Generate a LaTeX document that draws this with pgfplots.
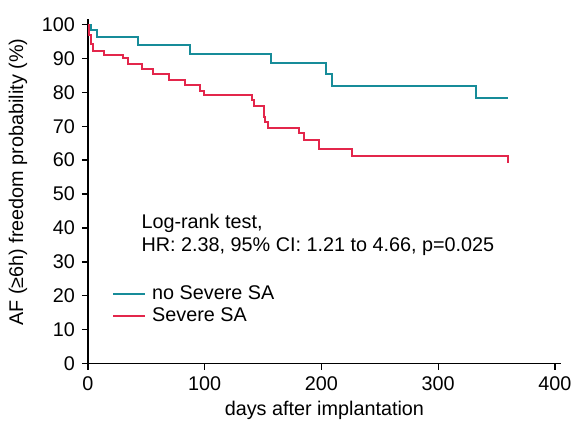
\documentclass[border=0pt]{standalone}
\usepackage{fontspec}
\setmainfont{Liberation Sans}
\usepackage{pgfplots}
\pgfplotsset{compat=1.18}

\definecolor{noSA}{RGB}{23,140,153}
\definecolor{SA}{RGB}{227,38,75}

\begin{document}
\begin{tikzpicture}
\fontsize{9.9}{12}\selectfont
% keep the page the size of the original figure
\useasboundingbox (-44pt,-29.75pt) rectangle (243pt,181.75pt);
\begin{axis}[
    scale only axis,
    width=236.4pt,
    height=172.2pt,
    xmin=0, xmax=405,
    ymin=0, ymax=101.6,
    xtick={0,100,...,400},
    ytick={0,10,...,100},
    axis lines=left,
    axis line style={-, line width=0.7pt},
    tick style={line width=0.7pt, black},
    tick align=outside,
    major tick length=3pt,
    /pgf/number format/assume math mode=true,
    ticklabel style={font=\fontsize{9.9}{12}\selectfont},
    xlabel={days after implantation},
    ylabel={AF (≥6h) freedom probability (\%)},
    xlabel style={at={(axis description cs:0.5,-0.135)}, anchor=center, font=\fontsize{9.9}{12}\selectfont},
    ylabel style={at={(axis description cs:-0.148,0.527)}, anchor=center, rotate=0, font=\fontsize{9.9}{12}\selectfont},
    legend style={draw=none, fill=none, at={(axis description cs:0.046,0.245)}, anchor=north west,
        font=\fontsize{9.9}{12}\selectfont, row sep=-1.2pt, inner sep=1pt},
    legend cell align=left,
    legend image code/.code={\draw[#1] (0pt,0pt) -- (16pt,0pt); \path (17pt,0pt);},
]
\addplot[const plot, color=noSA, line width=1pt] coordinates {
    (0,100) (2.5,98.3) (7.4,96.3) (43,93.9) (87,91.3) (156.7,88.7)
    (203.6,85.3) (209.3,81.9) (332,78.2) (360,78.2)
};
\addlegendentry{no Severe SA}
\addplot[const plot, color=SA, line width=1pt] coordinates {
    (0,100) (1,96.8) (2.5,94.4) (4,92.1) (14,91.1) (30,90.0) (34.5,88.5)
    (46.5,86.8) (56,85.4) (69,83.6) (83.5,82.3) (96,80.5) (99.5,79.2)
    (140.5,77.7) (142.5,75.9) (151,72.6) (152,71.1) (154.5,69.6)
    (180.7,68.0) (185,65.8) (198,63.4) (226,61.1) (360,61.1) (360,59.2)
};
\addlegendentry{Severe SA}
\node[anchor=west, align=left, inner sep=0pt, font=\fontsize{9.9}{11.7}\selectfont]
    at (axis cs:45.5,38.0) {Log-rank test,\\HR: 2.38, 95\% CI: 1.21 to 4.66, p=0.025};
\end{axis}
\end{tikzpicture}
\end{document}
